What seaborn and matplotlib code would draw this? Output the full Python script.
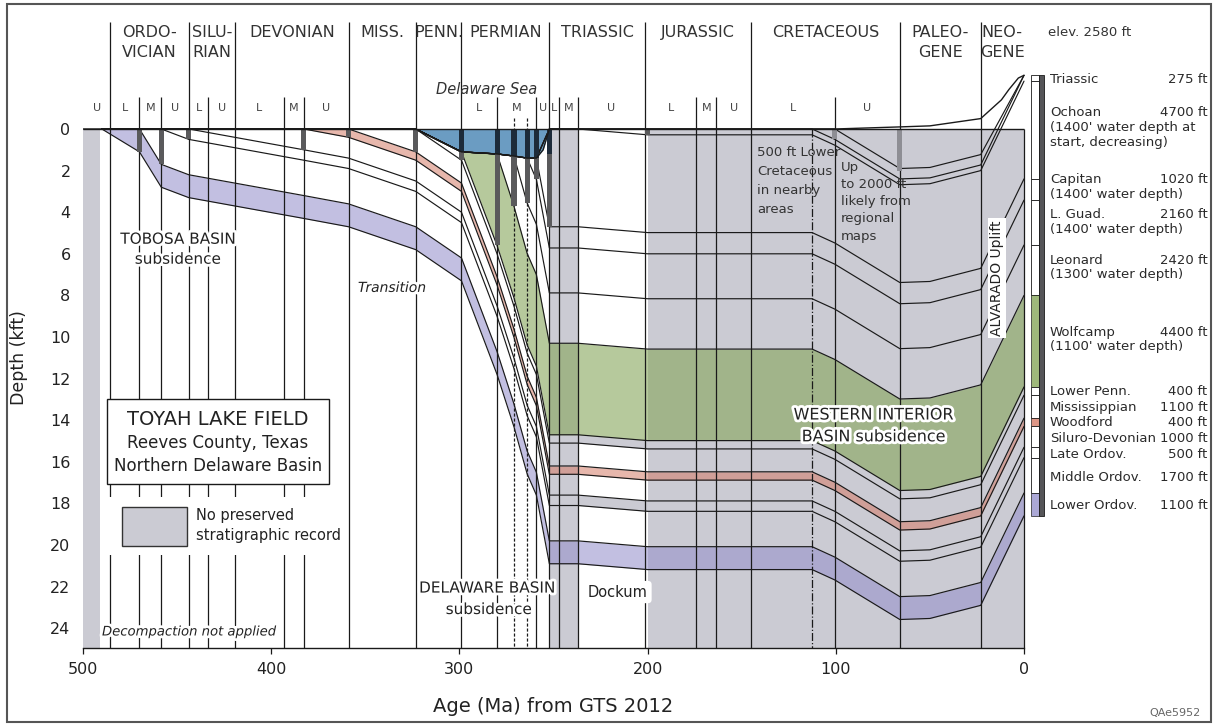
import matplotlib
matplotlib.use("Agg")
import matplotlib.pyplot as plt
import matplotlib.patheffects as pe
from matplotlib.patches import Rectangle
import numpy as np
import pandas as pd
import seaborn as sns

# ---------------- geologic time scale (GTS 2012), ages in Ma ----------------
period_labels = ["ORDO-\nVICIAN", "SILU-\nRIAN", "DEVONIAN", "MISS.", "PENN.",
                 "PERMIAN", "TRIASSIC", "JURASSIC", "CRETACEOUS", "PALEO-\nGENE", "NEO-\nGENE"]
period_base = [485.4, 443.8, 419.2, 358.9, 323.2, 298.9, 252.2, 201.3, 145.0, 66.0, 23.0]
period_top = [443.8, 419.2, 358.9, 323.2, 298.9, 252.2, 201.3, 145.0, 66.0, 23.0, 0.0]

epoch_labels = ["U", "L", "M", "U", "L", "U", "L", "M", "U", "L", "M", "U",
                "L", "M", "U", "L", "M", "U", "L", "U"]
epoch_base = [500.0, 485.4, 470.0, 458.4, 443.8, 433.4, 419.2, 393.3, 382.7, 298.9, 280.0, 259.1,
              252.2, 247.2, 237.0, 201.3, 174.1, 163.5, 145.0, 100.5]
epoch_top = [485.4, 470.0, 458.4, 443.8, 433.4, 419.2, 393.3, 382.7, 358.9, 280.0, 259.1, 252.2,
             247.2, 237.0, 201.3, 174.1, 163.5, 145.0, 100.5, 66.0]
epoch_bounds = [470.0, 458.4, 433.4, 393.3, 382.7, 280.0, 259.1, 247.2, 237.0, 174.1, 163.5, 100.5]
stage_bounds_dashed = [271.0, 264.0]
aptian_bound = 112.6

# ---------------- burial history: depth (kft) of each horizon vs age ----------------
ages = [490, 470, 458.4, 443.8, 382.7, 358.9, 323.2, 298.9, 280, 271, 264, 259.1,
        252.2, 237, 200, 112.6, 100.5, 66, 50, 23, 0]

lo_base = [0, 1.1, 2.8, 3.3, 4.3, 4.7, 5.8, 7.3, 11.8, 14.32, 16.58, 17.6,
           20.9, 20.9, 21.18, 21.18, 21.68, 23.58, 23.53, 22.9, 18.6]
lo_top = [0, 0, 1.7, 2.2, 3.2, 3.6, 4.7, 6.2, 10.7, 13.22, 15.48, 16.5,
          19.8, 19.8, 20.08, 20.08, 20.58, 22.48, 22.43, 21.8, 17.5]
mo_top = [0, 0, 0, 0.5, 1.5, 1.9, 3.0, 4.5, 9.0, 11.52, 13.78, 14.8,
          18.1, 18.1, 18.38, 18.38, 18.88, 20.78, 20.73, 20.1, 15.8]
uo_top = [0, 0, 0, 0, 1.0, 1.4, 2.5, 4.0, 8.5, 11.02, 13.28, 14.3,
          17.6, 17.6, 17.88, 17.88, 18.38, 20.28, 20.23, 19.6, 15.3]
sd_top = [0, 0, 0, 0, 0, 0.4, 1.5, 3.0, 7.5, 10.02, 12.28, 13.3,
          16.6, 16.6, 16.88, 16.88, 17.38, 19.28, 19.23, 18.6, 14.3]
wd_top = [0, 0, 0, 0, 0, 0, 1.1, 2.6, 7.1, 9.62, 11.88, 12.9,
          16.2, 16.2, 16.48, 16.48, 16.98, 18.88, 18.83, 18.2, 13.9]
ms_top = [0, 0, 0, 0, 0, 0, 0, 1.5, 6.0, 8.52, 10.78, 11.8,
          15.1, 15.1, 15.38, 15.38, 15.88, 17.78, 17.73, 17.1, 12.8]
lp_top = [0, 0, 0, 0, 0, 0, 0, 1.1, 5.6, 8.12, 10.38, 11.4,
          14.7, 14.7, 14.98, 14.98, 15.48, 17.38, 17.33, 16.7, 12.4]
wc_top = [0, 0, 0, 0, 0, 0, 0, 1.1, 1.2, 3.72, 5.98, 7.0,
          10.3, 10.3, 10.58, 10.58, 11.08, 12.98, 12.93, 12.3, 8.0]
ln_top = [0, 0, 0, 0, 0, 0, 0, 1.1, 1.2, 1.3, 3.56, 4.58,
          7.88, 7.88, 8.16, 8.16, 8.66, 10.56, 10.51, 9.88, 5.58]
lg_top = [0, 0, 0, 0, 0, 0, 0, 1.1, 1.2, 1.3, 1.4, 2.42,
          5.72, 5.72, 6.0, 6.0, 6.5, 8.4, 8.35, 7.72, 3.42]
cp_top = [0, 0, 0, 0, 0, 0, 0, 1.1, 1.2, 1.3, 1.4, 1.4,
          4.7, 4.7, 4.98, 4.98, 5.48, 7.38, 7.33, 6.7, 2.4]
oc_top = [0, 0, 0, 0, 0, 0, 0, 1.1, 1.2, 1.3, 1.4, 1.4,
          0, 0, 0.28, 0.28, 0.78, 2.68, 2.63, 2.0, -2.3]
tr_top = [0, 0, 0, 0, 0, 0, 0, 1.1, 1.2, 1.3, 1.4, 1.4,
          0, 0, 0, 0, 0.5, 2.4, 2.35, 1.73, -2.58]
lk_top = [0, 0, 0, 0, 0, 0, 0, 1.1, 1.2, 1.3, 1.4, 1.4,
          0, 0, 0, 0, 0, 1.9, 1.85, 1.23, -2.58]

# sediment / land surface (sea floor during the Delaware Sea)
surface_ages = [500, 323.2, 298.9, 280, 271, 264, 259.1, 255.5, 252.2, 100.5, 66, 50, 23, 12, 8, 3, 0]
surface_depth = [0, 0, 1.1, 1.2, 1.3, 1.4, 1.4, 1.0, 0, 0, -0.1, -0.15, -0.5, -1.4, -1.9, -2.45, -2.58]

# deposited thickness + water depth at the end of each interval
bar_ages = [470, 458.4, 443.8, 382.7, 358.9, 323.2, 298.9, 280, 271, 264, 259.1, 252.2, 200]
bar_depth = [1.1, 1.7, 0.5, 1.0, 0.4, 1.1, 1.5, 5.6, 3.72, 3.56, 2.42, 4.7, 0.28]
bar_water = [0, 0, 0, 0, 0, 0, 1.1, 1.2, 1.3, 1.4, 1.4, 1.2, 0]
cret_bar_ages = [100.5, 66]
cret_bar_depth = [0.5, 2.0]

# intervals with no preserved stratigraphic record
gap_spans = [(500, 491), (252.2, 237), (200, 0)]

# present-day stratigraphic column
column_names = ["Triassic", "Ochoan", "Capitan", "L. Guad.", "Leonard", "Wolfcamp",
                "Lower Penn.", "Mississippian", "Woodford", "Siluro-Devonian",
                "Late Ordov.", "Middle Ordov.", "Lower Ordov."]
column_ft = [275, 4700, 1020, 2160, 2420, 4400, 400, 1100, 400, 1000, 500, 1700, 1100]
column_notes = ["", "(1400' water depth at\nstart, decreasing)", "(1400' water depth)",
                "(1400' water depth)", "(1300' water depth)", "(1100' water depth)",
                "", "", "", "", "", "", ""]
column_label_depth = [-2.4, -0.77, 2.45, 4.13, 6.3, 9.76, 12.64, 13.37, 14.09, 14.86,
                      15.67, 16.73, 18.08]
elevation_ft = 2580

# ---------------- styling ----------------
sns.set_theme(style="white")
plt.rcParams["font.family"] = ["DejaVu Sans"]
plt.rcParams["text.color"] = "#222222"

GAP_GRAY = "#cbcbd3"
PURPLE = "#9692cc"
PINK = "#d57c68"
GREEN = "#86a65a"
SEA = "#6b9cc2"
INK = "#1a1a1a"
YB = 24.95
YTOP = -5.72

fig = plt.figure(figsize=(12.15, 7.25), dpi=100)
ax = fig.add_axes([83 / 1215, 77 / 725, 1127 / 1215, 638 / 725])
ax.set_facecolor("white")

# gaps in the record
for a0, a1 in gap_spans:
    ax.fill_between([a0, a1], 0, YB, color=GAP_GRAY, lw=0, zorder=1)
ax.vlines(0, 0, YB, color=INK, lw=0.9, zorder=6)

# Delaware Sea
i_sea0, i_sea1 = 1, 9
ax.fill_between(surface_ages[i_sea0:i_sea1], 0, surface_depth[i_sea0:i_sea1],
                color=SEA, lw=0, zorder=2)

# shaded formations
ax.fill_between(ages, lo_top, lo_base, color=PURPLE, alpha=0.58, lw=0, zorder=3)
ax.fill_between(ages, wd_top, sd_top, color=PINK, alpha=0.55, lw=0, zorder=3)
ax.fill_between(ages, wc_top, lp_top, color=GREEN, alpha=0.6, lw=0, zorder=3)
i0 = ages.index(252.2)
ax.fill_between(ages[i0:], lp_top[i0:], ms_top[i0:], color=GAP_GRAY, lw=0, zorder=2.5)
ax.fill_between(ages[i0:], uo_top[i0:], mo_top[i0:], color=GAP_GRAY, lw=0, zorder=2.5)

# horizon lines
horizons = {"lo_base": lo_base, "lo_top": lo_top, "mo_top": mo_top, "uo_top": uo_top,
            "sd_top": sd_top, "wd_top": wd_top, "ms_top": ms_top, "lp_top": lp_top,
            "wc_top": wc_top, "ln_top": ln_top, "lg_top": lg_top, "cp_top": cp_top,
            "oc_top": oc_top, "tr_top": tr_top, "lk_top": lk_top}
df = pd.DataFrame([(name, a, d) for name, vals in horizons.items() for a, d in zip(ages, vals)],
                  columns=["horizon", "age", "depth"])
sns.lineplot(data=df, x="age", y="depth", units="horizon", estimator=None, sort=False,
             color=INK, linewidth=0.85, ax=ax, zorder=5, legend=False)

# surface
sns.lineplot(x=surface_ages, y=surface_depth, sort=False, estimator=None, color=INK,
             linewidth=1.0, ax=ax, zorder=8)
ax.hlines(0, 500, 0, color=INK, lw=1.0, zorder=8)

# time lines
ax.vlines(period_base, -5.14, YB, color=INK, lw=0.9, zorder=6)
ax.vlines(epoch_bounds, -1.54, YB, color=INK, lw=0.9, zorder=6)
ax.vlines(stage_bounds_dashed, -0.53, YB, color=INK, lw=0.9, linestyles=(0, (2.5, 1.5)), zorder=6)
ax.vlines(aptian_bound, 0, YB, color=INK, lw=0.9, linestyles="-.", zorder=6)

# thickness bars
ax.bar(bar_ages, bar_depth, width=2.7, bottom=0, color="#5a5a5c", lw=0, zorder=7)
ax.bar(bar_ages, bar_water, width=2.7, bottom=0, color="#1d2b3a", lw=0, zorder=7.5)
ax.bar(cret_bar_ages, cret_bar_depth, width=2.7, bottom=0, color="#8e8e94", lw=0, zorder=7)

# time-scale header
for lab, b, t in zip(period_labels, period_base, period_top):
    mid = (b + t) / 2
    for k, line in enumerate(lab.split("\n")):
        ax.text(mid, -4.62 + 0.92 * k, line, ha="center", va="center", fontsize=11.5,
                color="#333333", zorder=10)
for lab, b, t in zip(epoch_labels, epoch_base, epoch_top):
    ax.text((b + t) / 2, -1.01, lab, ha="center", va="center", fontsize=8, color="#444444", zorder=10)
ax.text(-12.75, -4.62, f"elev. {elevation_ft} ft", ha="left", va="center", fontsize=9.5, color="#333333")

# present-day column
col_x0, col_x1, bar_x0 = -3.7, -10.6, -8.0
col_colors = {"Wolfcamp": GREEN, "Woodford": PINK, "Lower Ordov.": PURPLE}
tops = -elevation_ft / 1000 + np.concatenate([[0], np.cumsum(column_ft)[:-1]]) / 1000
for name, top, ft in zip(column_names, tops, column_ft):
    c = col_colors.get(name, "white")
    ax.add_patch(Rectangle((bar_x0, top), col_x0 - bar_x0, ft / 1000, facecolor=c,
                           alpha=0.8 if c != "white" else 1, edgecolor=INK, lw=0.6, zorder=9))
ax.add_patch(Rectangle((col_x1, tops[0]), bar_x0 - col_x1, sum(column_ft) / 1000,
                       facecolor="#555558", edgecolor=INK, lw=0.6, zorder=9))

for name, ft, note, d in zip(column_names, column_ft, column_notes, column_label_depth):
    ax.text(-13.8, d, name, ha="left", va="center", fontsize=9.5, color="#2a2a2a")
    ax.text(-97.5, d, f"{ft} ft", ha="right", va="center", fontsize=9.5, color="#2a2a2a")
    if note:
        for k, line in enumerate(note.split("\n")):
            ax.text(-13.8, d + 0.7 * (k + 1), line, ha="left", va="center", fontsize=9.5,
                    color="#2a2a2a")

# annotations
halo = [pe.withStroke(linewidth=4, foreground="white")]
ax.text(449.5, 5.3, "TOBOSA BASIN", ha="center", va="center", fontsize=11, path_effects=halo, zorder=11)
ax.text(449.5, 6.26, "subsidence", ha="center", va="center", fontsize=11, path_effects=halo, zorder=11)
ax.text(335.8, 7.64, "Transition", ha="center", va="center", fontsize=10, style="italic",
        path_effects=halo, zorder=11)
ax.text(285.3, -1.875, "Delaware Sea", ha="center", va="center", fontsize=10.5, style="italic",
        color="#333333", zorder=11)
ax.text(285.3, 22.07, "DELAWARE BASIN", ha="center", va="center", fontsize=11, path_effects=halo, zorder=11)
ax.text(284.3, 23.1, "subsidence", ha="center", va="center", fontsize=11, path_effects=halo, zorder=11)
ax.text(215.7, 22.26, "Dockum", ha="center", va="center", fontsize=10.5, zorder=11,
        bbox=dict(boxstyle="round,pad=0.25", facecolor="white", edgecolor="none"))
ax.text(79.7, 13.75, "WESTERN INTERIOR", ha="center", va="center", fontsize=11.5, path_effects=halo, zorder=11)
ax.text(79.7, 14.8, "BASIN subsidence", ha="center", va="center", fontsize=11.5, path_effects=halo, zorder=11)
for k, line in enumerate(["500 ft Lower", "Cretaceous", "in nearby", "areas"]):
    ax.text(141.9, 1.15 + 0.91 * k, line, ha="left", va="center", fontsize=9.5, color="#333333", zorder=11)
for k, line in enumerate(["Up", "to 2000 ft", "likely from", "regional", "maps"]):
    ax.text(97.2, 1.83 + 0.83 * k, line, ha="left", va="center", fontsize=9.5, color="#333333", zorder=11)
ax.text(14.3, 7.16, "ALVARADO Uplift", rotation=90, ha="center", va="center", fontsize=10, zorder=11,
        bbox=dict(boxstyle="square,pad=0.15", facecolor="white", edgecolor="none"))

# location box and legend
ax.add_patch(Rectangle((369.3, 13.0), 487.2 - 369.3, 17.05 - 13.0, facecolor="white",
                       edgecolor=INK, lw=1.0, zorder=10))
ax.text(428.3, 13.95, "TOYAH LAKE FIELD", ha="center", va="center", fontsize=14, zorder=11)
ax.text(428.3, 15.1, "Reeves County, Texas", ha="center", va="center", fontsize=12, zorder=11)
ax.text(428.3, 16.2, "Northern Delaware Basin", ha="center", va="center", fontsize=12, zorder=11)
ax.add_patch(Rectangle((360.0, 17.7), 487.2 - 360.0, 20.5 - 17.7, facecolor="white",
                       edgecolor="none", zorder=10))
ax.add_patch(Rectangle((444.7, 18.15), 479.3 - 444.7, 20.05 - 18.15, facecolor=GAP_GRAY,
                       edgecolor="#333333", lw=1.0, zorder=11))
ax.text(440.0, 18.6, "No preserved", ha="left", va="center", fontsize=10.5, zorder=11)
ax.text(440.0, 19.55, "stratigraphic record", ha="left", va="center", fontsize=10.5, zorder=11)
ax.text(489.9, 24.18, "Decompaction not applied", ha="left", va="center", fontsize=9.5,
        style="italic", path_effects=halo, zorder=11)

# axes
ax.set_xlim(500, -98.83)
ax.set_ylim(YB, YTOP)
for s in ["left", "top", "right"]:
    ax.spines[s].set_visible(False)
ax.spines["bottom"].set_bounds(0, 500)
ax.spines["bottom"].set_color(INK)
ax.spines["bottom"].set_linewidth(1.0)
ax.set_xticks([500, 400, 300, 200, 100, 0])
ax.set_xticklabels(["500", "400", "300", "200", "100", "0"])
ax.set_yticks(list(range(0, 25, 2)))
ax.set_yticklabels([str(v) for v in range(0, 25, 2)])
ax.tick_params(axis="x", bottom=True, direction="out", length=4, width=0.9, color=INK,
               labelsize=11.5, labelcolor="#222222", pad=6)
ax.tick_params(axis="y", left=False, length=0, labelsize=11.5, labelcolor="#222222", pad=9)
ax.grid(False)
ax.set_xlabel("Age (Ma) from GTS 2012", fontsize=14, color="#222222")
ax.set_ylabel("Depth (kft)", fontsize=12.5, color="#222222")
ax.xaxis.set_label_coords((500 - 250) / (500 + 98.83), -0.077)
ax.yaxis.set_label_coords(-0.0488, 0.456)

fig.text(1175 / 1215, 1 - 713 / 725, "QAe5952", ha="center", va="center", fontsize=8, color="#666666")
fig.add_artist(Rectangle((7 / 1215, 3 / 725), 1204 / 1215, 718 / 725, transform=fig.transFigure,
                         fill=False, edgecolor="#555555", lw=1.5))

fig.savefig("out.png", dpi=100)
